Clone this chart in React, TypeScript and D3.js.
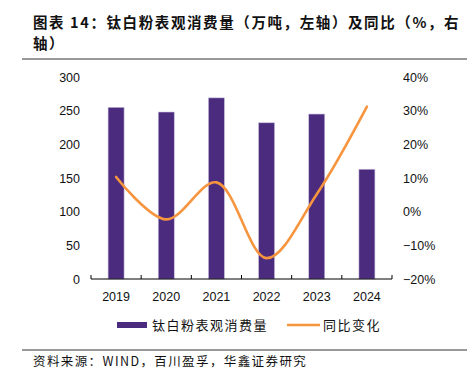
import * as d3 from "d3";

const W = 476;
const H = 372;

const years = ["2019", "2020", "2021", "2022", "2023", "2024"];
const consumption = [255, 248, 269, 232, 245, 163]; // 万吨
const yoy = [10.3, -2.3, 8.7, -13.8, 5.2, 31.2]; // %

const leftTicks = [0, 50, 100, 150, 200, 250, 300];
const rightTicks = [-20, -10, 0, 10, 20, 30, 40];

const PURPLE = "#4B2B7E";
const ORANGE = "#F7953F";
const CJK = "'Noto Sans CJK SC', sans-serif";
const LATIN = "'Liberation Sans', Arial, sans-serif";

const App = () => {
  const plotLeft = 91;
  const plotRight = 392;
  const plotTop = 77;
  const plotBottom = 279;

  const x = d3.scaleBand().domain(years).range([plotLeft, plotRight]).paddingInner(0).paddingOuter(0);
  const yL = d3.scaleLinear().domain([0, 300]).range([plotBottom, plotTop]);
  const yR = d3.scaleLinear().domain([-20, 40]).range([plotBottom, plotTop]);
  const barW = 16;

  const line = d3
    .line<number>()
    .x((_, i) => x(years[i])! + x.bandwidth() / 2)
    .y((d) => yR(d))
    .curve(d3.curveCatmullRom.alpha(0.5));

  return (
    <svg width={W} height={H} style={{ position: "absolute", left: 0, top: 0, background: "white" }}>
      {/* title */}
      <text x={33} y={28} fontFamily={CJK} fontSize={14.5} fontWeight="bold" fill="#111" letterSpacing={1.6}>
        图表 14：钛白粉表观消费量（万吨，左轴）及同比（%，右
      </text>
      <text x={33} y={49} fontFamily={CJK} fontSize={14.5} fontWeight="bold" fill="#111" letterSpacing={1.6}>
        轴）
      </text>
      <line x1={22} x2={467} y1={59} y2={59} stroke="#333" strokeWidth={1} />

      {/* bars */}
      {consumption.map((v, i) => (
        <rect
          key={years[i]}
          x={x(years[i])! + x.bandwidth() / 2 - barW / 2}
          y={yL(v)}
          width={barW}
          height={plotBottom - yL(v)}
          fill={PURPLE}
          stroke="#C9BEDD"
          strokeWidth={0.6}
        />
      ))}

      {/* x axis */}
      <line x1={plotLeft} x2={plotRight} y1={plotBottom} y2={plotBottom} stroke="#000" strokeWidth={1} />
      {d3.range(years.length + 1).map((i) => {
        const tx = plotLeft + i * x.bandwidth();
        return <line key={i} x1={tx} x2={tx} y1={plotBottom - 4} y2={plotBottom} stroke="#000" strokeWidth={1} />;
      })}
      {years.map((yr) => (
        <text
          key={yr}
          x={x(yr)! + x.bandwidth() / 2}
          y={301}
          textAnchor="middle"
          fontFamily={LATIN}
          fontSize={12.5}
          fill="#111"
        >
          {yr}
        </text>
      ))}

      {/* left ticks */}
      {leftTicks.map((t) => (
        <text key={t} x={80} y={yL(t) + 4.5} textAnchor="end" fontFamily={LATIN} fontSize={12.5} fill="#111">
          {t}
        </text>
      ))}

      {/* right ticks */}
      {rightTicks.map((t) => (
        <text key={t} x={403} y={yR(t) + 4.5} textAnchor="start" fontFamily={LATIN} fontSize={12.5} fill="#111">
          {t < 0 ? `\u2212${Math.abs(t)}%` : `${t}%`}
        </text>
      ))}

      {/* yoy line */}
      <path d={line(yoy) ?? ""} fill="none" stroke={ORANGE} strokeWidth={2.6} strokeLinecap="round" />

      {/* legend */}
      <rect x={117} y={322} width={30} height={6} fill={PURPLE} />
      <text x={152} y={330} fontFamily={CJK} fontSize={13} fill="#111" letterSpacing={1.5}>
        钛白粉表观消费量
      </text>
      <line x1={287} x2={320} y1={325} y2={325} stroke={ORANGE} strokeWidth={2.6} />
      <text x={323} y={330} fontFamily={CJK} fontSize={13} fill="#111" letterSpacing={1.5}>
        同比变化
      </text>

      {/* source */}
      <line x1={22} x2={467} y1={350} y2={350} stroke="#333" strokeWidth={1} />
      <text x={33} y={366} fontFamily={CJK} fontSize={12.5} fill="#111" letterSpacing={1.4}>
        资料来源：WIND，百川盈孚，华鑫证券研究
      </text>
    </svg>
  );
};

export default App;
